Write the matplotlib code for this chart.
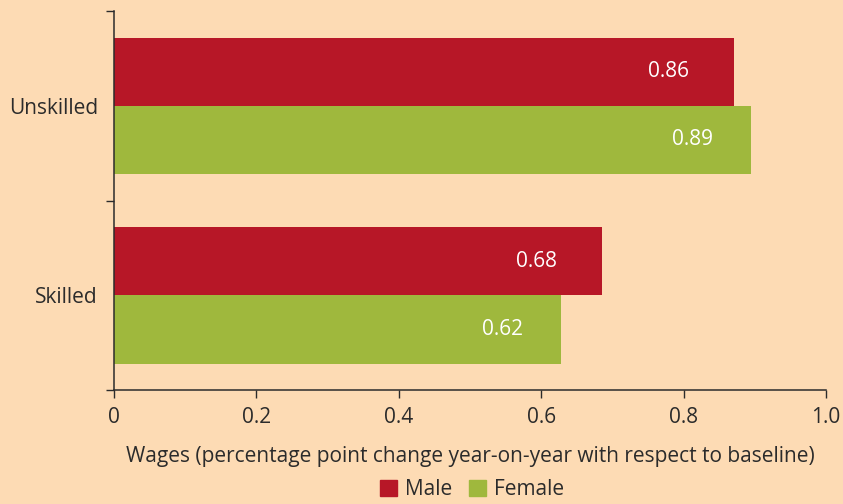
import matplotlib.pyplot as plt
import numpy as np
from matplotlib.patches import Patch

# data
categories = ['Skilled', 'Unskilled']
male = [0.685, 0.871]
female = [0.628, 0.895]
male_labels = ['0.68', '0.86']
female_labels = ['0.62', '0.89']

bg = '#FDDBB4'
red = '#B71727'
green = '#9FB83D'
dark = '#2B2B2B'

plt.rcParams['font.family'] = ['Open Sans', 'DejaVu Sans']
plt.rcParams['font.size'] = 15

fig = plt.figure(figsize=(8.43, 5.04), dpi=100, facecolor=bg)
ax = fig.add_axes([0.135, 0.226, 0.845, 0.752], facecolor=bg)

y = np.arange(len(categories))
h = 0.36
ax.barh(y + h / 2, male, height=h, color=red)
ax.barh(y - h / 2, female, height=h, color=green)

for yi, v, t in zip(y, male, male_labels):
    ax.text(v - 0.092, yi + h / 2, t, color='white', ha='center', va='center')
for yi, v, t in zip(y, female, female_labels):
    ax.text(v - 0.082, yi - h / 2, t, color='white', ha='center', va='center')

ax.set_xlim(0, 1.0)
ax.set_ylim(-0.5, 1.5)
ax.set_xticks([0, 0.2, 0.4, 0.6, 0.8, 1.0])
ax.set_xticklabels(['0', '0.2', '0.4', '0.6', '0.8', '1.0'])
ax.set_yticks([-0.5, 0.5, 1.5])
ax.set_yticklabels([])
ax.set_yticks(y, minor=True)
ax.set_yticklabels(categories, minor=True)
ax.tick_params(axis='y', which='minor', length=0, pad=11.5, colors=dark)
ax.tick_params(axis='y', which='major', length=6, width=1, color=dark)
ax.tick_params(axis='x', length=6, width=1, color=dark, labelcolor=dark, pad=6)

for s in ['top', 'right']:
    ax.spines[s].set_visible(False)
for s in ['left', 'bottom']:
    ax.spines[s].set_color(dark)
    ax.spines[s].set_linewidth(1.1)

ax.set_xlabel('Wages (percentage point change year-on-year with respect to baseline)',
              color=dark, labelpad=13)

handles = [Patch(color=red, label='Male'), Patch(color=green, label='Female')]
fig.legend(handles=handles, loc='lower center', bbox_to_anchor=(0.56, -0.03), ncol=2,
           frameon=False, handlelength=0.8, handleheight=0.8, handletextpad=0.4,
           columnspacing=0.8, labelcolor=dark)

fig.savefig('out.png', dpi=100, facecolor=bg)
